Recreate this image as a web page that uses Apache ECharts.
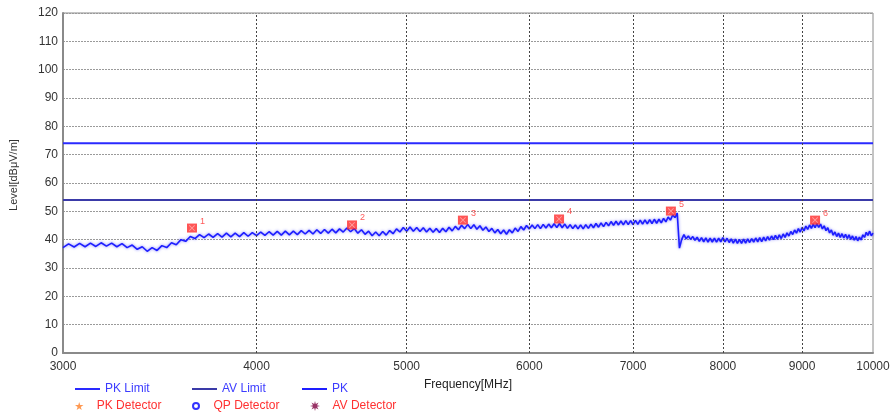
<!DOCTYPE html>
<html>
<head>
<meta charset="utf-8">
<script src="https://cdn.jsdelivr.net/npm/echarts@6/dist/echarts.min.js"></script>
<style>
html,body{margin:0;padding:0;background:#fff;}
#c{width:893px;height:414px;}
</style>
</head>
<body>
<div id="c"></div>
<script>
// ---- data ----
const freqTicks = [3000, 4000, 5000, 6000, 7000, 8000, 9000, 10000];
const levelTicksMax = 120;
const pkLimit = 74;
const avLimit = 54;
// sweep: 3000 MHz to 10000 MHz, 25 MHz per point
const sweepStart = 3000;
const sweepStep = 25;
const pkLevels = [
  37.2, 38.5, 37.4, 38.7, 37.5, 38.8, 37.6, 38.9, 37.7, 38.8,
  37.5, 38.6, 37.2, 38.1, 36.6, 37.5, 35.9, 37.2, 36.2, 37.9,
  37.2, 38.9, 38.2, 40.0, 39.4, 41.1, 40.4, 41.8, 40.7, 42.0,
  40.8, 42.1, 40.9, 42.3, 41.0, 42.3, 41.1, 42.5, 41.2, 42.5,
  41.4, 42.7, 41.5, 42.8, 41.6, 42.9, 41.6, 43.0, 41.7, 43.0,
  41.8, 43.2, 42.0, 43.3, 42.0, 43.5, 42.2, 43.6, 42.3, 43.7,
  42.4, 43.8, 42.7, 44.1, 42.8, 43.9, 42.3, 43.5, 41.9, 43.0,
  41.4, 42.7, 41.4, 42.9, 41.6, 43.2, 42.1, 43.8, 42.7, 44.3,
  43.0, 44.5, 43.0, 44.3, 42.9, 44.2, 42.7, 44.0, 42.6, 43.9,
  42.5, 44.0, 42.8, 44.4, 43.1, 44.7, 43.5, 45.1, 43.9, 45.4,
  43.9, 45.3, 43.7, 44.9, 43.3, 44.5, 42.9, 44.0, 42.4, 43.6,
  42.1, 43.4, 41.9, 43.5, 42.4, 44.1, 42.9, 44.6, 43.4, 45.0,
  43.8, 45.2, 43.9, 45.3, 43.9, 45.4, 44.1, 45.5, 44.2, 45.6,
  44.3, 45.7, 44.2, 45.5, 44.0, 45.3, 43.9, 45.2, 43.8, 45.2,
  43.8, 45.3, 44.0, 45.5, 44.2, 45.7, 44.4, 45.9, 44.6, 46.1,
  44.9, 46.4, 45.1, 46.5, 45.2, 46.6, 45.2, 46.7, 45.3, 46.7,
  45.3, 46.8, 45.4, 46.9, 45.5, 47.0, 45.6, 47.1, 45.7, 47.2,
  45.8, 47.2, 45.9, 47.5, 46.3, 48.0, 46.9, 48.7, 47.8, 49.4,
  37.0, 40.1, 41.8, 40.3, 41.3, 40.1, 41.1, 39.8, 40.9, 39.4,
  40.7, 39.2, 40.6, 39.1, 40.5, 39.1, 40.5, 39.1, 40.5, 39.2,
  40.7, 39.2, 40.5, 39.0, 40.3, 38.8, 40.2, 38.7, 40.1, 38.7,
  40.2, 38.8, 40.3, 39.0, 40.4, 39.1, 40.6, 39.2, 40.7, 39.3,
  40.9, 39.6, 41.1, 39.8, 41.3, 40.0, 41.5, 40.2, 41.7, 40.4,
  42.0, 40.8, 42.4, 41.3, 42.9, 41.8, 43.4, 42.3, 43.9, 42.7,
  44.3, 43.1, 44.8, 43.6, 45.2, 44.0, 45.5, 44.2, 45.7, 44.3,
  45.5, 43.8, 44.9, 43.2, 44.2, 42.4, 43.4, 41.6, 42.7, 41.1,
  42.3, 40.8, 42.1, 40.6, 41.9, 40.4, 41.7, 40.1, 41.3, 39.8,
  41.1, 39.6, 40.9, 39.9, 41.7, 40.8, 42.6, 41.5, 43.0, 41.4,
  42.3
];
const peakFreqs = [3634, 4610, 5436, 6271, 7405, 9175];
const peakLevels = [44.1, 45.2, 46.9, 47.3, 50.1, 46.9];
const peakNames = ['1', '2', '3', '4', '5', '6'];

// ---- build ----
const pkData = pkLevels.map((v, i) => [sweepStart + i * sweepStep, v]);
const xMin = freqTicks[0], xMax = freqTicks[freqTicks.length - 1];
const peakData = peakFreqs.map((f, i) => ({ value: [f, peakLevels[i]], name: peakNames[i] }));

const chart = echarts.init(document.getElementById('c'), null, { renderer: 'canvas' });

const starPath = 'path://M50,0L61,35L98,35L68,57L79,91L50,70L21,91L32,57L2,35L39,35Z';
const burstPath = 'path://M50,0L58,30L85,15L70,42L100,50L70,58L85,85L58,70L50,100L42,70L15,85L30,58L0,50L30,42L15,15L42,30Z';
const xPath = 'path://M0,1L1,0L10,9L9,10Z M9,0L10,1L1,10L0,9Z';
const FONT = 'Liberation Sans, Arial, sans-serif';

function lg(name, left, top, color, icon, ih) {
  const o = {
    data: [name], left: left, top: top, orient: 'horizontal',
    itemWidth: 25, itemHeight: ih, itemGap: 0, padding: 0,
    selectedMode: false,
    textStyle: { color: color, fontSize: 12, fontFamily: FONT }
  };
  if (icon) o.icon = icon;
  return o;
}

const option = {
  animation: false,
  backgroundColor: '#fff',
  grid: { left: 63, right: 20, top: 13, bottom: 61, show: true, borderColor: '#8a8a8a', borderWidth: 1, containLabel: false },
  legend: [
    lg('PK Limit', 75, 383, '#3c3cff', 'rect', 2),
    lg('AV Limit', 192, 383, '#3c3cff', 'rect', 2),
    lg('PK', 302, 383, '#3c3cff', 'rect', 2),
    lg('PK Detector', 75, 400, '#ff3030', null, 8),
    lg('QP Detector', 192, 400, '#ff3030', null, 6),
    lg('AV Detector', 310, 400, '#ff3030', null, 10)
  ],
  graphic: [{
    type: 'text', x: 14, y: 175, rotation: Math.PI / 2,
    style: { text: 'Level[dBμV/m]', fill: '#333', font: '11px "Liberation Sans", Arial, sans-serif', align: 'center', verticalAlign: 'middle' }
  }],
  xAxis: {
    type: 'log', logBase: 10, min: xMin, max: xMax,
    name: 'Frequency[MHz]', nameLocation: 'middle', nameGap: 26,
    nameTextStyle: { color: '#222', fontSize: 12, fontFamily: FONT },
    axisLine: { show: true, lineStyle: { color: '#8a8a8a', width: 2 } },
    axisTick: { show: false, customValues: freqTicks },
    axisLabel: { customValues: freqTicks, color: '#333', fontSize: 12, margin: 8, fontFamily: FONT, formatter: v => String(Math.round(v)) },
    splitLine: { show: false },
    minorTick: { show: false }, minorSplitLine: { show: false }
  },
  yAxis: {
    type: 'value', min: 0, max: levelTicksMax, interval: 10,
    axisLine: { show: true, lineStyle: { color: '#8a8a8a', width: 2 } },
    axisTick: { show: false },
    axisLabel: { color: '#333', fontSize: 12, margin: 5, fontFamily: FONT },
    splitLine: { show: true, lineStyle: { color: '#9a9a9a', type: [2, 1], width: 1 } }
  },
  series: [
    {
      name: 'grid-v', type: 'line', data: [], silent: true,
      markLine: {
        silent: true, symbol: 'none', label: { show: false },
        lineStyle: { color: '#444', type: [2, 2], width: 1 },
        data: freqTicks.slice(1, -1).map(f => ({ xAxis: f }))
      }
    },
    {
      name: 'PK Limit', type: 'line', symbol: 'none', z: 3,
      data: [[xMin, pkLimit], [xMax, pkLimit]],
      lineStyle: { color: '#2a2aff', width: 2 }, itemStyle: { color: '#2a2aff' }
    },
    {
      name: 'AV Limit', type: 'line', symbol: 'none', z: 3,
      data: [[xMin, avLimit], [xMax, avLimit]],
      lineStyle: { color: '#3a3aa8', width: 2 }, itemStyle: { color: '#3a3aa8' }
    },
    {
      name: 'PK', type: 'line', symbol: 'none', z: 4,
      data: pkData,
      lineStyle: { color: '#1e1eff', width: 1.6, shadowColor: 'rgba(40,40,255,0.6)', shadowBlur: 3 },
      itemStyle: { color: '#1e1eff' }
    },
    {
      name: 'PK Detector', type: 'scatter', data: [], symbol: starPath, symbolSize: 8,
      itemStyle: { color: '#ff7f27' }
    },
    {
      name: 'QP Detector', type: 'scatter', data: [], symbol: 'emptyCircle', symbolSize: 6,
      itemStyle: { color: '#0000ff', borderColor: '#0000ff', borderWidth: 2 }
    },
    {
      name: 'AV Detector', type: 'scatter', data: [], symbol: burstPath, symbolSize: 10,
      itemStyle: { color: '#800040' }
    },
    {
      name: 'Peaks', type: 'scatter', z: 6, data: peakData,
      symbol: 'rect', symbolSize: [10, 9],
      itemStyle: { color: '#ff2a2a' },
      label: { show: true, formatter: p => p.name, position: 'right', offset: [-2, -7], color: '#ff3030', fontSize: 9, fontFamily: FONT }
    },
    {
      name: 'PeaksX', type: 'scatter', z: 7, data: peakData, silent: true,
      symbol: xPath, symbolSize: 6,
      itemStyle: { color: '#ffb4b4' }
    }
  ]
};
chart.setOption(option);
</script>
</body>
</html>
